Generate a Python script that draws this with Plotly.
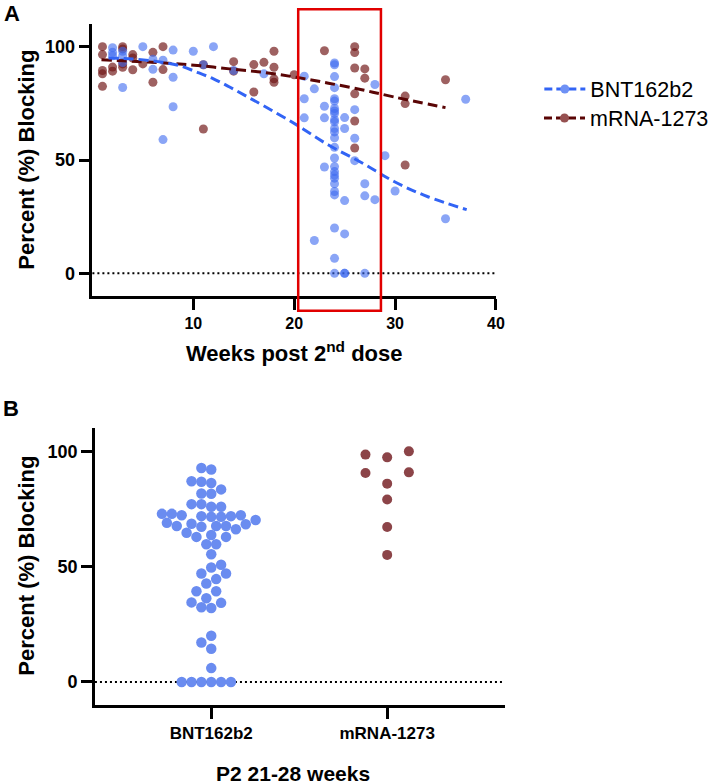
import plotly.graph_objects as go

# ---------------- Panel A data (weeks post 2nd dose vs % blocking) ----------------
BNT_WEEKS = [2, 2, 2, 3, 3, 3, 3, 5, 6, 6, 7, 7, 8, 8, 8, 10, 11, 12, 14, 17,
             21, 21, 21, 22, 22, 23, 23, 23,
             24, 24, 24, 24, 24, 24, 24, 24, 24, 24, 24, 24, 24, 24, 24, 24, 24, 24, 24, 24,
             24, 24, 24, 24, 24, 24,
             25, 25, 25, 25, 25, 25, 26, 26, 26, 27, 27, 27, 28, 28, 29, 30, 35, 37]
BNT_VALUES = [99.5, 97.5, 96, 98, 96, 93, 82, 100, 94.5, 90, 94, 59, 98.5, 86.5, 73.5, 98, 92, 100, 89.5, 88,
              87, 77, 68.6, 81.4, 14.5, 73.7, 68.6, 46.9,
              92.8, 92, 86.8, 81.9, 77, 76, 72.7, 71.6, 70.5, 67.8, 66.8, 63.9, 62.4, 59.8, 55.6, 50.9, 47.1, 44.9,
              43.4, 42, 39.5, 36.1, 34.6, 20, 6.6, 0,
              68.7, 63.9, 32.1, 17.4, 0, 0, 72.2, 59.6, 49.7, 39.5, 34.2, 0, 83.3, 32.5, 51.9, 36.3, 24.1, 76.8]

MRNA_WEEKS = [1, 1, 1, 1, 1, 2, 2, 3, 3, 3, 3, 4, 4, 4, 5, 6, 6, 7, 7, 11, 11, 14, 14, 16, 16, 17,
              18, 18, 18, 18, 20, 23, 26, 26, 26, 26, 26, 26, 27, 27, 31, 31, 31, 35]
MRNA_VALUES = [100, 96.5, 89.5, 88, 82.5, 91, 89.2, 100, 99, 92.4, 90.9, 96.5, 95, 89.8, 92.4, 97.5, 84.3,
               100, 89.9, 92, 63.7, 93.4, 89.2, 92.1, 80, 93.1, 98, 90.9, 85.8, 84.3, 87.6, 98.2,
               100, 97.4, 90.6, 79.2, 67.2, 55.3, 90.2, 86.1, 78.2, 74.9, 47.8, 85.4]

# fitted curves
BNT_FIT_WEEKS = [1.6, 4, 6.5, 8.5, 10.4, 12, 13.6, 15.2, 16.9, 20.2, 23.4, 26.7, 29.9, 33.2, 37.1]
BNT_FIT_VALUES = [95, 94.6, 93.4, 91.8, 88.7, 85.8, 82.2, 78.3, 74.1, 65.6, 56.6, 48.8, 40.5, 33.9, 28.1]
MRNA_FIT_WEEKS = [0.9, 7.1, 10.4, 13.6, 16.9, 20.2, 23.4, 26.7, 29.9, 35]
MRNA_FIT_VALUES = [94.2, 92.8, 91.7, 90.2, 88.7, 86.5, 83.9, 81, 77.8, 73.1]

WINDOW_WEEKS = [20.4, 28.6]          # highlighted window (P2 21-28 weeks)
A_X_TICKS = [10, 20, 30, 40]
Y_TICKS = [0, 50, 100]

# ---------------- Panel B data (P2 21-28 weeks) ----------------
CATEGORIES = ["BNT162b2", "mRNA-1273"]
B_BNT = [92.1, 92.8, 86.8, 86.3, 87, 83.5, 81.7, 81.6, 77.1, 77.1, 76, 76,
         72.9, 72.3, 72.9, 71.6, 72.3, 71.6, 71.9, 71.9,
         67.6, 69, 67.6, 67.6, 68.4, 70.2, 68.6, 67.3, 66.2, 64.7, 63.7, 62.9, 62.9,
         59.7, 59.7, 55.4, 50.8, 49.6, 47, 47, 44.6, 42.7, 39.3, 39.3, 36.3,
         34.3, 34.5, 32.1, 32.4, 20, 17.1, 14.4, 6, 0, 0, 0, 0, 0, 0]
B_MRNA = [98.6, 90.6, 97.4, 86.0, 79.1, 67.2, 55.1, 100.0, 90.9]

# ---------------- styles ----------------
FONT = "Liberation Sans, Arial, sans-serif"
BLUE_PT = "rgba(60,105,240,0.6)"
RED_PT = "rgba(112,22,22,0.68)"
BLUE_LINE = "rgb(50,100,245)"
RED_LINE = "rgb(90,5,5)"
BLUE_B = "rgb(106,140,240)"
RED_B = "rgb(140,68,72)"

W, H = 714, 784
AX = [93.7 / W, 503 / W]
AY = [1 - 296 / H, 1 - 24 / H]
BX = [96.3 / W, 511.7 / W]
BY = [1 - 705 / H, 1 - 428.3 / H]
A_XRANGE = [0, 40]
YRANGE = [-10, 110]
B_XRANGE = [-0.661, 1.667]


def swarm(values, diameter, step, px_per_y, px_per_x):
    """Greedy beeswarm: offsets (in x units) so markers don't overlap."""
    placed = []
    offs = [0.0] * len(values)
    order = sorted(range(len(values)), key=lambda i: values[i])
    cands = [0.0]
    for k in range(1, 60):
        cands += [-k * step, k * step]
    for i in order:
        yp = values[i] * px_per_y
        for c in cands:
            if all((c - px) ** 2 + (yp - py) ** 2 >= diameter ** 2 for px, py in placed):
                break
        placed.append((c, yp))
        offs[i] = c / px_per_x
    return offs


px_per_y_B = (BY[1] - BY[0]) * H / (YRANGE[1] - YRANGE[0])
px_per_x_B = (BX[1] - BX[0]) * W / (B_XRANGE[1] - B_XRANGE[0])
off_bnt = swarm(B_BNT, 10.0, 5.0, px_per_y_B, px_per_x_B)
off_mrna = swarm(B_MRNA, 12.0, 22.0, px_per_y_B, px_per_x_B)

fig = go.Figure()

# Panel A scatter
fig.add_trace(go.Scatter(x=MRNA_WEEKS, y=MRNA_VALUES, mode="markers", showlegend=False,
                         marker=dict(color=RED_PT, size=9, line=dict(width=0)),
                         xaxis="x", yaxis="y"))
fig.add_trace(go.Scatter(x=BNT_WEEKS, y=BNT_VALUES, mode="markers", showlegend=False,
                         marker=dict(color=BLUE_PT, size=9, line=dict(width=0)),
                         xaxis="x", yaxis="y"))
fig.add_trace(go.Scatter(x=MRNA_FIT_WEEKS, y=MRNA_FIT_VALUES, mode="lines", showlegend=False,
                         line=dict(color=RED_LINE, width=3, dash="10px,5px", shape="spline"),
                         xaxis="x", yaxis="y"))
fig.add_trace(go.Scatter(x=BNT_FIT_WEEKS, y=BNT_FIT_VALUES, mode="lines", showlegend=False,
                         line=dict(color=BLUE_LINE, width=3, dash="10px,5px", shape="spline"),
                         xaxis="x", yaxis="y"))
# legend entries
fig.add_trace(go.Scatter(x=[None], y=[None], mode="lines+markers", name=CATEGORIES[0],
                         line=dict(color=BLUE_LINE, width=3, dash="8px,4px"),
                         marker=dict(color="rgb(110,145,245)", size=9), legend="legend",
                         xaxis="x", yaxis="y"))
fig.add_trace(go.Scatter(x=[None], y=[None], mode="lines+markers", name=CATEGORIES[1],
                         line=dict(color=RED_LINE, width=3, dash="8px,4px"),
                         marker=dict(color="rgb(150,80,80)", size=9), legend="legend2",
                         xaxis="x", yaxis="y"))

# Panel B swarm
fig.add_trace(go.Scatter(x=[0 + o for o in off_bnt], y=B_BNT, mode="markers", showlegend=False,
                         marker=dict(color=BLUE_B, size=10.5, line=dict(width=0)),
                         xaxis="x2", yaxis="y2"))
fig.add_trace(go.Scatter(x=[1 + o for o in off_mrna], y=B_MRNA, mode="markers", showlegend=False,
                         marker=dict(color=RED_B, size=10, line=dict(width=0)),
                         xaxis="x2", yaxis="y2"))

axis_common = dict(showline=True, linecolor="black", linewidth=2.5, ticks="outside",
                   ticklen=11, tickwidth=2.5, tickcolor="black", showgrid=False, zeroline=False,
                   fixedrange=True)
tick_font = dict(family=FONT, size=18, color="black", weight="bold")
legend_font = dict(family=FONT, size=21.5, color="black")

fig.update_layout(
    width=W, height=H, margin=dict(l=0, r=0, t=0, b=0),
    paper_bgcolor="white", plot_bgcolor="white",
    xaxis=dict(domain=AX, range=A_XRANGE, tickvals=A_X_TICKS, anchor="y",
               tickfont=dict(family=FONT, size=16, color="black", weight="bold"), **axis_common),
    yaxis=dict(domain=AY, range=YRANGE, tickvals=Y_TICKS, anchor="x", tickfont=tick_font, **axis_common),
    xaxis2=dict(domain=BX, range=B_XRANGE, tickvals=[0, 1], ticktext=CATEGORIES, anchor="y2",
                tickfont=dict(family=FONT, size=17, color="black", weight="bold"), **axis_common),
    yaxis2=dict(domain=BY, range=YRANGE, tickvals=Y_TICKS, anchor="x2", tickfont=tick_font, **axis_common),
    legend=dict(x=547 / W, y=1 - 89 / H, xanchor="left", yanchor="middle", bgcolor="rgba(0,0,0,0)",
                itemwidth=41, font=legend_font),
    legend2=dict(x=547 / W, y=1 - 118 / H, xanchor="left", yanchor="middle", bgcolor="rgba(0,0,0,0)",
                 itemwidth=41, font=legend_font),
)

# zero reference lines
for xr, yr in (("x domain", "y"), ("x2 domain", "y2")):
    fig.add_shape(type="line", xref=xr, yref=yr, x0=0, x1=1, y0=0, y1=0,
                  line=dict(color="black", width=2, dash="2px,3px"), layer="below")

# red highlight window (extends beyond the axes)
yd = lambda v: (v - YRANGE[0]) / (YRANGE[1] - YRANGE[0])
xd = lambda w: (w - A_XRANGE[0]) / (A_XRANGE[1] - A_XRANGE[0])
fig.add_shape(type="rect", xref="x domain", yref="y domain",
              x0=xd(WINDOW_WEEKS[0]), x1=xd(WINDOW_WEEKS[1]), y0=yd(-16.5), y1=yd(116.5),
              line=dict(color="rgb(225,0,0)", width=2.5), fillcolor="rgba(0,0,0,0)")

title_font = dict(family=FONT, size=22, color="black", weight="bold")
ann = [
    dict(text="A", x=2 / W, y=1 - 13.7 / H, xanchor="left", yanchor="middle",
         font=dict(family=FONT, size=22, color="black", weight="bold")),
    dict(text="B", x=1 / W, y=1 - 409 / H, xanchor="left", yanchor="middle",
         font=dict(family=FONT, size=22, color="black", weight="bold")),
    dict(text="Percent (%) Blocking", x=26 / W, y=1 - 160 / H, textangle=-90,
         xanchor="center", yanchor="middle", font=title_font),
    dict(text="Percent (%) Blocking", x=26 / W, y=1 - 566 / H, textangle=-90,
         xanchor="center", yanchor="middle", font=title_font),
    dict(text="Weeks post 2<sup>nd</sup> dose", x=298.4 / W, y=1 - 352 / H,
         xanchor="center", yanchor="middle", font=title_font),
    dict(text="P2 21-28 weeks", x=297 / W, y=1 - 773 / H, xanchor="center", yanchor="middle",
         font=dict(family=FONT, size=21, color="black", weight="bold")),
]
for a in ann:
    fig.add_annotation(xref="paper", yref="paper", showarrow=False, **a)

fig.write_html("out.html", config={"displayModeBar": False},
               post_script="document.body.style.margin='0px';")
